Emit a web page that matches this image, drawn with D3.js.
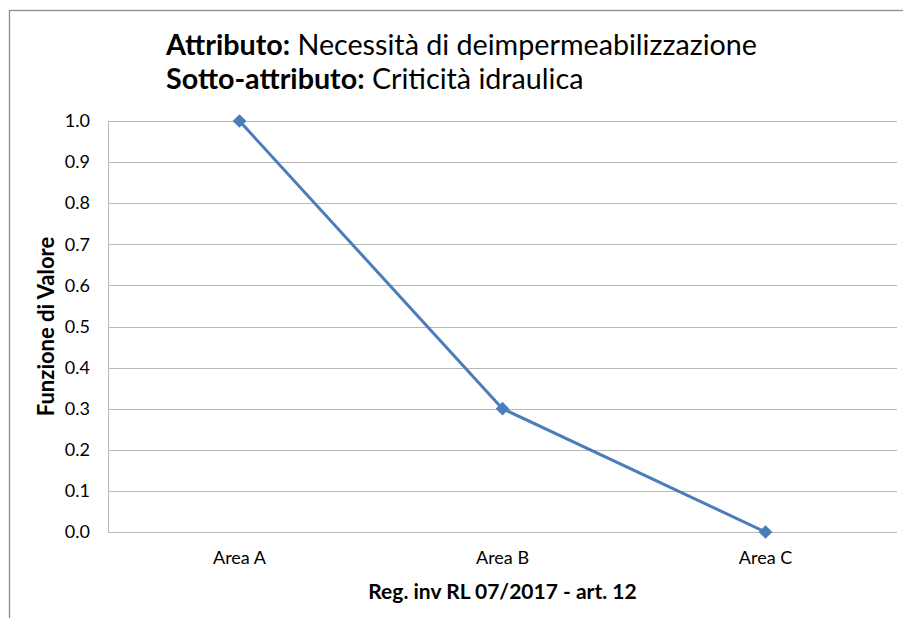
<!DOCTYPE html>
<html>
<head>
<meta charset="utf-8">
<script src="https://cdn.jsdelivr.net/npm/d3@7"></script>
<style>
  body { margin: 0; background: #fff; }
  svg { display: block; font-family: Lato, "Open Sans", sans-serif; }
</style>
</head>
<body>
<script>
const categories = ['Area A', 'Area B', 'Area C'];
const values = [1.0, 0.3, 0.0];
const y_ticks = [0, 0.1, 0.2, 0.3, 0.4, 0.5, 0.6, 0.7, 0.8, 0.9, 1.0];

const _svg_width = 903;
const _svg_height = 618;
const _left = 108;
const _right = 897;
const _top = 121;
const _bottom = 532;

const svg = d3.select('body')
    .append('svg')
    .attr('width', _svg_width)
    .attr('height', _svg_height);

// chart frame (only left and top edges are visible in the picture)
svg.append('rect')
    .attr('x', 9.5)
    .attr('y', 10.5)
    .attr('width', 910)
    .attr('height', 620)
    .attr('fill', 'white')
    .attr('stroke', '#8c8c8c')
    .attr('stroke-width', 1.3);

const x = d3.scaleBand()
    .domain(categories)
    .range([_left, _right]);

const y = d3.scaleLinear()
    .domain([0, 1])
    .range([_bottom, _top]);

// gridlines
svg.append('g')
    .selectAll('line')
    .data(y_ticks)
    .join('line')
    .attr('x1', _left)
    .attr('x2', _right)
    .attr('y1', d => Math.round(y(d)) + 0.5)
    .attr('y2', d => Math.round(y(d)) + 0.5)
    .attr('stroke', '#b8b8b8')
    .attr('stroke-width', 1);

svg.append('line')
    .attr('x1', _left + 0.5)
    .attr('x2', _left + 0.5)
    .attr('y1', _top)
    .attr('y2', _bottom + 0.5)
    .attr('stroke', '#b8b8b8');

// y axis labels
const y_axis = svg.append('g')
    .attr('transform', `translate(${_left},0)`)
    .call(d3.axisLeft(y).tickValues(y_ticks).tickFormat(d3.format('.1f')).tickSize(0).tickPadding(18));
y_axis.select('.domain').remove();
y_axis.selectAll('text')
    .attr('font-size', '18px')
    .attr('font-family', 'Lato, "Open Sans", sans-serif')
    .attr('fill', '#000');

// x axis labels
const x_axis = svg.append('g')
    .attr('transform', `translate(0,${_bottom})`)
    .call(d3.axisBottom(x).tickSize(0).tickPadding(19));
x_axis.select('.domain').remove();
x_axis.selectAll('text')
    .attr('font-size', '18px')
    .attr('font-family', 'Lato, "Open Sans", sans-serif')
    .attr('fill', '#000');

// line + markers
const line = d3.line()
    .x((d, i) => x(categories[i]) + x.bandwidth() / 2)
    .y(d => y(d));

svg.append('path')
    .datum(values)
    .attr('d', line)
    .attr('fill', 'none')
    .attr('stroke', '#4a7ebb')
    .attr('stroke-width', 3);

svg.append('g')
    .selectAll('path')
    .data(values)
    .join('path')
    .attr('d', d3.symbol(d3.symbolDiamond2, 120))
    .attr('transform', (d, i) => `translate(${x(categories[i]) + x.bandwidth() / 2},${y(d)})`)
    .attr('fill', '#4a7ebb');

// title
const title = svg.append('g')
    .attr('font-size', '28.7px')
    .attr('fill', '#000');

const t1 = title.append('text').attr('x', 166).attr('y', 55);
t1.append('tspan').attr('font-weight', 'bold').text('Attributo:');
t1.append('tspan').text(' Necessità di deimpermeabilizzazione');

const t2 = title.append('text').attr('x', 166).attr('y', 89);
t2.append('tspan').attr('font-weight', 'bold').text('Sotto-attributo:');
t2.append('tspan').text(' Criticità idraulica');

// axis titles
svg.append('text')
    .attr('x', (_left + _right) / 2)
    .attr('y', 599)
    .attr('text-anchor', 'middle')
    .attr('font-size', '21px')
    .attr('font-weight', 'bold')
    .text('Reg. inv RL 07/2017 - art. 12');

svg.append('text')
    .attr('transform', `translate(54,${(_top + _bottom) / 2}) rotate(-90)`)
    .attr('text-anchor', 'middle')
    .attr('font-size', '22px')
    .attr('font-weight', 'bold')
    .text('Funzione di Valore');
</script>
</body>
</html>
